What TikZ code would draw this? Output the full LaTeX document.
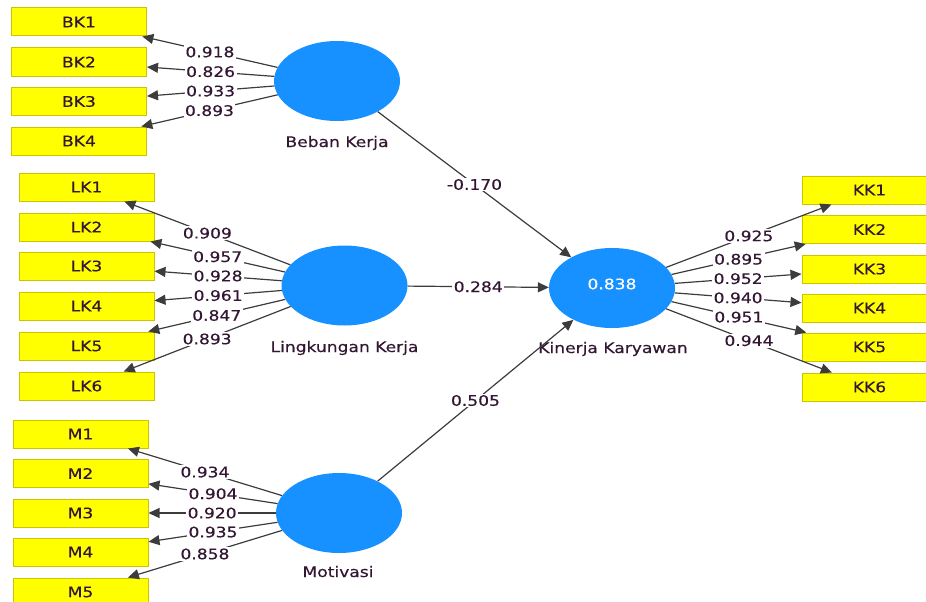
\documentclass[tikz,border=0pt]{standalone}
\usepackage{fontspec}
\newfontfamily\plsfont[FakeStretch=1.18,FakeBold=0.35]{DejaVu Sans}
\usetikzlibrary{shapes.geometric,arrows.meta}
\definecolor{plsblue}{RGB}{22,145,255}
\definecolor{boxyellow}{RGB}{255,255,0}
\definecolor{boxedge}{RGB}{205,195,0}
\definecolor{txtc}{RGB}{50,22,50}
\definecolor{linec}{RGB}{60,60,60}
\newcommand{\plsfs}{\plsfont\fontsize{14.5}{17}\selectfont}
\begin{document}
\begin{tikzpicture}[x=1pt,y=-1pt,
 ind/.style={rectangle,fill=boxyellow,draw=boxedge,line width=1pt,minimum width=135pt,minimum height=28pt,inner sep=0pt,font=\plsfs,text=txtc},
 lat/.style={ellipse,fill=plsblue,minimum width=126pt,minimum height=80pt,inner sep=0pt},
 latname/.style={anchor=base,font=\plsfs,text=txtc},
 conn/.style={draw=linec,line width=1.2pt,-{Triangle[length=11pt,width=10pt]}},
 coef/.style={midway,fill=white,inner sep=1.5pt,font=\plsfs,text=txtc}]
\useasboundingbox (0,0) rectangle (926,602);
\clip (0,0) rectangle (926,602);
% latent variables
\node[lat] (bk) at (337,81) {};
\node[lat] (lk) at (344.5,285.5) {};
\node[lat] (mo) at (339,513) {};
\node[lat] (kk) at (612,288) {};
\node[font=\plsfs,text=white] (r2) at (612,284) {0.838};
\node[latname] (bkn) at (337,147) {Beban Kerja};
\node[latname] (lkn) at (344.5,352) {Lingkungan Kerja};
\node[latname] (mon) at (338,577) {Motivasi};
\node[latname] (kkn) at (613,353) {Kinerja Karyawan};
% indicators
\node[ind] (BK1) at (79,22) {BK1};
\node[ind] (BK2) at (79,62) {BK2};
\node[ind] (BK3) at (79,101.5) {BK3};
\node[ind] (BK4) at (79,141) {BK4};
\node[ind] (LK1) at (86.5,187) {LK1};
\node[ind] (LK2) at (86.5,227) {LK2};
\node[ind] (LK3) at (86.5,266) {LK3};
\node[ind] (LK4) at (86.5,306) {LK4};
\node[ind] (LK5) at (86.5,346) {LK5};
\node[ind] (LK6) at (86.5,386) {LK6};
\node[ind] (M1) at (80.5,434) {M1};
\node[ind] (M2) at (80.5,473.5) {M2};
\node[ind] (M3) at (80.5,513) {M3};
\node[ind] (M4) at (80.5,552) {M4};
\node[ind] (M5) at (80.5,592) {M5};
\node[ind] (KK1) at (869.5,190) {KK1};
\node[ind] (KK2) at (869.5,229.5) {KK2};
\node[ind] (KK3) at (869.5,269) {KK3};
\node[ind] (KK4) at (869.5,308) {KK4};
\node[ind] (KK5) at (869.5,347) {KK5};
\node[ind] (KK6) at (869.5,387) {KK6};
% loadings
\draw[conn] (bk) -- node[coef] {0.918} (BK1);
\draw[conn] (bk) -- node[coef] {0.826} (BK2);
\draw[conn] (bk) -- node[coef] {0.933} (BK3);
\draw[conn] (bk) -- node[coef] {0.893} (BK4);
\draw[conn] (lk) -- node[coef] {0.909} (LK1);
\draw[conn] (lk) -- node[coef] {0.957} (LK2);
\draw[conn] (lk) -- node[coef] {0.928} (LK3);
\draw[conn] (lk) -- node[coef] {0.961} (LK4);
\draw[conn] (lk) -- node[coef] {0.847} (LK5);
\draw[conn] (lk) -- node[coef] {0.893} (LK6);
\draw[conn] (mo) -- node[coef] {0.934} (M1);
\draw[conn] (mo) -- node[coef] {0.904} (M2);
\draw[conn] (mo) -- node[coef] {0.920} (M3);
\draw[conn] (mo) -- node[coef] {0.935} (M4);
\draw[conn] (mo) -- node[coef] {0.858} (M5);
\draw[conn] (kk) -- node[coef] {0.925} (KK1);
\draw[conn] (kk) -- node[coef] {0.895} (KK2);
\draw[conn] (kk) -- node[coef] {0.952} (KK3);
\draw[conn] (kk) -- node[coef] {0.940} (KK4);
\draw[conn] (kk) -- node[coef] {0.951} (KK5);
\draw[conn] (kk) -- node[coef] {0.944} (KK6);
% structural paths
\draw[conn] (bk) -- node[coef] {-0.170} (kk);
\draw[conn] (lk) -- node[coef] {0.284} (kk);
\draw[conn] (mo) -- node[coef] {0.505} (kk);
\end{tikzpicture}
\end{document}
